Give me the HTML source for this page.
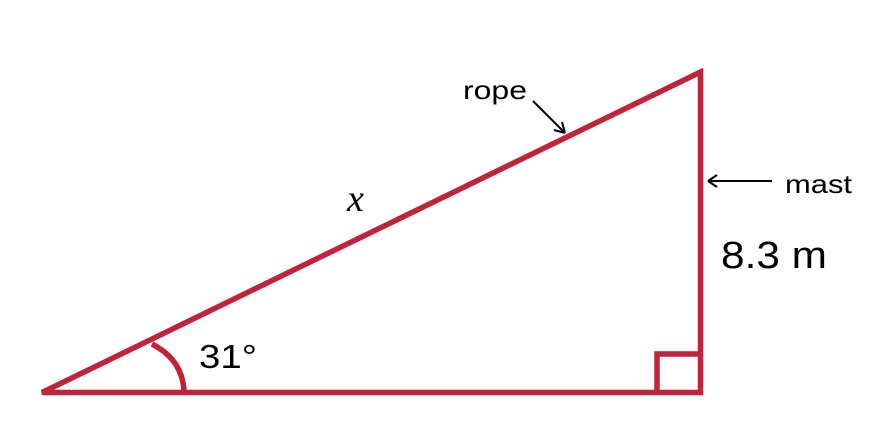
<!DOCTYPE html>
<html><head><style>body{margin:0;background:#fff}svg{display:block}</style></head>
<body>
<svg width="882" height="444" viewBox="0 0 882 444" xmlns="http://www.w3.org/2000/svg">
<g stroke="#c0233a" stroke-width="5.5" fill="none" stroke-linejoin="miter">
<path d="M42,392.5 L700.5,392.5 L700.5,72 Z"/>
<path d="M657,392 L657,354 L700,354"/>
<path d="M152,344 Q183,360 184,392"/>
</g>
<g stroke="#000" stroke-width="2" fill="none">
<path d="M533,101 L565,133 M565,133 L554,130 M565,133 L562,122"/>
<path d="M772,181 L708,181 M708,181 L717,175 M708,181 L717,187"/>
</g>
<g font-family="Liberation Sans, sans-serif" fill="#000">
<text x="463" y="99" font-size="26" textLength="64" lengthAdjust="spacingAndGlyphs">rope</text>
<text x="785" y="193" font-size="26" textLength="67" lengthAdjust="spacingAndGlyphs">mast</text>
<text x="721" y="268" font-size="38" textLength="106" lengthAdjust="spacingAndGlyphs">8.3 m</text>
<text x="199" y="368" font-size="33" textLength="58" lengthAdjust="spacingAndGlyphs">31°</text>
<text x="347" y="211" font-size="38" font-family="Liberation Serif, serif" font-style="italic">x</text>
</g>
</svg>
</body></html>
